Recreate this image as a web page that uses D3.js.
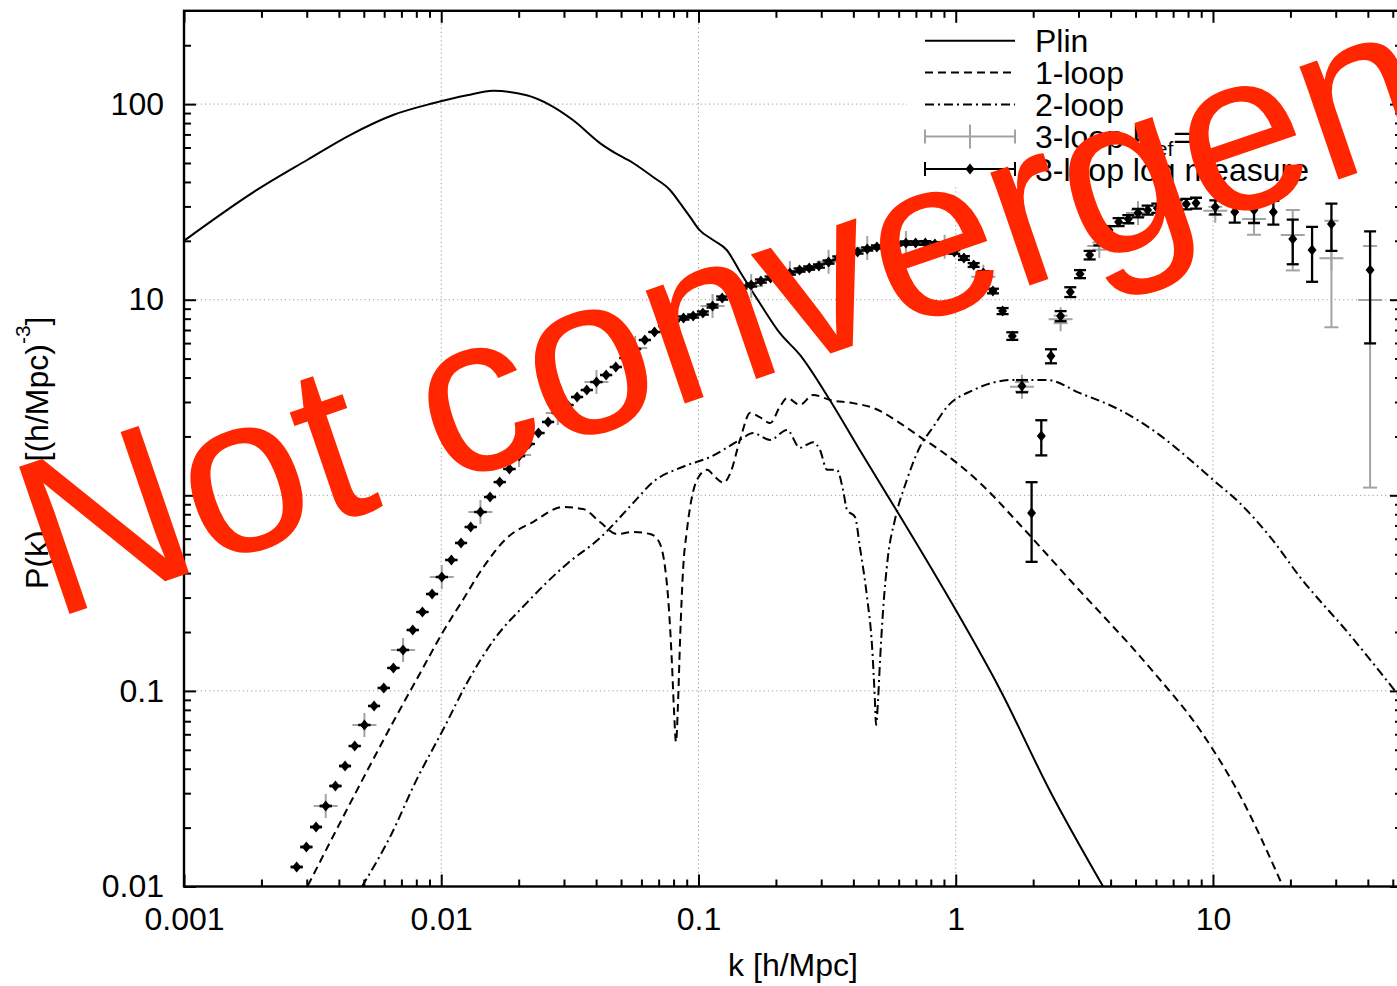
<!DOCTYPE html>
<html>
<head>
<meta charset="utf-8">
<script src="https://cdn.jsdelivr.net/npm/d3@7"></script>
<style>
  html, body { margin: 0; padding: 0; background: #fff; }
  svg { display: block; }
  text { font-family: "Liberation Sans", Arial, Helvetica, sans-serif; }
</style>
</head>
<body>
<svg id="chart" width="1397" height="986"></svg>
<script>
// ---- Linear power spectrum ----
const plinK = [0.001, 0.00192, 0.00301, 0.00442, 0.0065, 0.00929, 0.0126, 0.0159, 0.0215, 0.0265,
  0.0325, 0.0414, 0.0453, 0.0557, 0.0666, 0.0775, 0.0848, 0.0927, 0.101, 0.114,
  0.129, 0.145, 0.173, 0.207, 0.248, 0.324, 0.424, 0.607, 0.869, 1.49, 2.33, 3.74];
const plinP = [20.0, 36.4, 51.8, 69.5, 88.0, 101, 111, 117, 111, 98.9,
  82.9, 63.2, 58.3, 50.0, 42.4, 36.4, 31.2, 26.5, 22.7, 20.2,
  17.9, 13.9, 9.62, 6.76, 5.22, 3.07, 1.70, 0.784, 0.356, 0.101, 0.0306, 0.0100];

// ---- 1-loop contribution ----
const oneLoopK = [0.00303, 0.00393, 0.00496, 0.00650, 0.00849, 0.0101, 0.0122, 0.0145, 0.0180, 0.0227,
  0.0297, 0.0356, 0.0414, 0.0482, 0.0557, 0.0648, 0.0696, 0.0741, 0.0768, 0.0789,
  0.0803, 0.0818, 0.0832, 0.0848, 0.0871, 0.0902, 0.0943, 0.0987, 0.108, 0.116,
  0.125, 0.133, 0.145, 0.159, 0.173, 0.190, 0.207, 0.221, 0.248, 0.279,
  0.325, 0.399, 0.477, 0.607, 0.726, 0.869, 1.24, 1.78, 2.78, 5.69,
  8.90, 12.7, 18.7];
const oneLoopP = [0.0101, 0.0197, 0.0355, 0.0693, 0.131, 0.198, 0.295, 0.425, 0.605, 0.730,
  0.871, 0.851, 0.730, 0.634, 0.649, 0.634, 0.591, 0.430, 0.259, 0.136,
  0.0799, 0.0548, 0.0847, 0.182, 0.415, 0.665, 0.980, 1.20, 1.35, 1.24,
  1.16, 1.30, 1.92, 2.64, 2.51, 2.34, 2.83, 3.14, 2.90, 3.26,
  3.07, 2.96, 2.80, 2.34, 1.99, 1.70, 1.16, 0.705, 0.369, 0.131,
  0.0631, 0.0294, 0.0100];

// ---- 2-loop contribution ----
const twoLoopK = [0.00492, 0.00632, 0.00805, 0.0102, 0.0126, 0.0159, 0.0215, 0.0308, 0.0414, 0.0557,
  0.0666, 0.0871, 0.111, 0.145, 0.163, 0.190, 0.221, 0.248, 0.279, 0.297,
  0.316, 0.345, 0.365, 0.378, 0.406, 0.424, 0.452, 0.473, 0.485, 0.490,
  0.499, 0.508, 0.521, 0.545, 0.580, 0.646, 0.726, 0.816, 0.925, 1.17,
  1.67, 2.26, 3.04, 4.35, 6.06, 7.92, 10.0, 12.7, 16.7, 21.8,
  34.1, 53.3];
const twoLoopP = [0.0100, 0.0179, 0.0355, 0.0639, 0.110, 0.180, 0.282, 0.446, 0.605, 0.913,
  1.17, 1.40, 1.57, 1.92, 2.08, 1.92, 2.16, 1.75, 1.87, 1.70,
  1.35, 1.35, 1.06, 0.841, 0.775, 0.544, 0.302, 0.168, 0.0899, 0.0670,
  0.0899, 0.144, 0.250, 0.484, 0.748, 1.20, 1.77, 2.23, 2.83, 3.45,
  3.89, 3.89, 3.33, 2.73, 2.08, 1.57, 1.20, 0.913, 0.612, 0.382,
  0.193, 0.0931];

// ---- 3-loop, log measure (value and symmetric error) ----
const logMeasK = [0.002742, 0.002990, 0.003261, 0.003556, 0.003878, 0.004227, 0.004609, 0.005027, 0.005481, 0.005977,
  0.006516, 0.007106, 0.007749, 0.008450, 0.009213, 0.01005, 0.01095, 0.01194, 0.01302, 0.01420,
  0.01548, 0.01688, 0.01841, 0.02008, 0.02189, 0.02387, 0.02603, 0.02838, 0.03095, 0.03374,
  0.03679, 0.04012, 0.04375, 0.04771, 0.05202, 0.05673, 0.06185, 0.06745, 0.07355, 0.08020,
  0.08745, 0.09535, 0.1040, 0.1134, 0.1236, 0.1348, 0.1470, 0.1603, 0.1748, 0.1906,
  0.2078, 0.2266, 0.2471, 0.2694, 0.2938, 0.3204, 0.3493, 0.3809, 0.4154, 0.4529,
  0.4939, 0.5385, 0.5872, 0.6403, 0.6982, 0.7614, 0.8302, 0.9053, 0.9870, 1.076,
  1.174, 1.280, 1.395, 1.521, 1.659, 1.809, 1.972, 2.151, 2.345, 2.557,
  2.788, 3.041, 3.316, 3.615, 3.942, 4.298, 4.687, 5.111, 5.573, 6.076,
  6.626, 7.225, 7.878, 8.590, 10.21, 12.15, 14.44, 17.17, 20.42, 24.28,
  28.87, 40.81];
const logMeasP = [0.01258, 0.01592, 0.02015, 0.02579, 0.03265, 0.04130, 0.05227, 0.06695, 0.08374, 0.1035,
  0.1310, 0.1619, 0.2048, 0.2532, 0.3129, 0.3822, 0.4670, 0.5705, 0.6885, 0.8214,
  0.9802, 1.169, 1.363, 1.588, 1.830, 2.082, 2.371, 2.636, 2.895, 3.181,
  3.454, 3.795, 4.121, 4.529, 5.035, 5.598, 6.223, 6.838, 7.338, 7.782,
  8.062, 8.254, 8.551, 9.286, 10.20, 10.95, 11.61, 11.89, 12.46, 12.91,
  13.22, 13.69, 14.18, 14.52, 14.87, 15.58, 16.34, 16.93, 17.54, 18.16,
  18.60, 18.82, 19.27, 19.50, 19.50, 19.50, 19.27, 18.82, 17.54, 16.34,
  15.05, 13.69, 11.08, 8.753, 6.524, 3.622, 0.8120, 2.010, 5.155, 8.254,
  10.95, 13.53, 16.93, 19.96, 22.72, 24.96, 25.85, 27.75, 28.74, 29.42,
  30.13, 30.49, 30.85, 31.22, 29.78, 28.08, 28.74, 28.08, 20.43, 17.95,
  24.38, 14.18];
const logMeasErr = [0, 0, 0, 0, 0, 0, 0, 0, 0, 0,
  0, 0, 0, 0, 0, 0, 0, 0, 0, 0,
  0, 0, 0, 0, 0, 0, 0, 0, 0, 0,
  0, 0, 0, 0, 0, 0, 0, 0, 0, 0,
  0.15, 0.15, 0.16, 0.17, 0.19, 0.20, 0.21, 0.22, 0.23, 0.24,
  0.25, 0.26, 0.27, 0.28, 0.29, 0.30, 0.31, 0.33, 0.34, 0.35,
  0.36, 0.37, 0.38, 0.39, 0.39, 0.40, 0.40, 0.40, 0.38, 0.36,
  0.34, 0.32, 0.30, 0.31, 0.29, 0.26, 0.355, 0.41, 0.425, 0.49,
  0.63, 0.64, 0.86, 0.98, 1.07, 1.20, 1.25, 1.40, 1.50, 1.60,
  1.70, 1.80, 1.90, 2.00, 2.45, 3.30, 4.06, 3.90, 5.25, 5.60,
  6.60, 8.20];

// ---- 3-loop with reference scale (value and symmetric error) ----
const refK = [0.003556, 0.005027, 0.007106, 0.01005, 0.01420, 0.02008, 0.02838, 0.04012, 0.05673, 0.08020,
  0.1134, 0.1603, 0.2266, 0.3204, 0.4529, 0.6403, 0.9053, 1.280, 1.809, 2.557,
  3.615, 5.111, 7.225, 10.21, 14.44, 20.42, 28.87, 40.81];
const refP = [0.02579, 0.06695, 0.1619, 0.3822, 0.8214, 1.607, 2.636, 3.795, 5.664, 7.874,
  9.286, 11.75, 13.69, 15.64, 18.38, 19.50, 18.67, 13.11, 3.592, 7.940,
  18.82, 27.75, 30.13, 28.51, 25.85, 21.42, 16.28, 9.965];
const refErr = [0, 0, 0, 0, 0, 0, 0, 0, 0, 0,
  0, 0, 0, 0, 0, 0.30, 0.35, 0.35, 0.20, 0.35,
  0.80, 1.10, 1.30, 1.40, 4.35, 7.30, 9.05, 8.87];

// ---- axes and labels ----
const xTickValues = [0.001, 0.01, 0.1, 1, 10];
const xTickLabels = ["0.001", "0.01", "0.1", "1", "10"];
const yTickValues = [0.01, 0.1, 1, 10, 100];
const yTickLabels = ["0.01", "0.1", "1", "10", "100"];
const seriesNames = ["Plin", "1-loop", "2-loop", "3-loop k", "3-loop log measure"];
const xTitle = "k [h/Mpc]";
const stamp = "Not convergent";

const toPoints = (ks, ps) => ks.map((k, i) => ({ k, p: ps[i] }));

const box = { left: 184, right: 1402, top: 10.8, bottom: 886.5 };
const x = d3.scaleLog().domain([0.001, 54.3]).range([box.left, box.right]);
const y = d3.scaleLog().domain([0.01, 300]).range([box.bottom, box.top]);

const svg = d3.select("#chart");
const FONT = 32;

svg.append("defs").append("clipPath").attr("id", "plotClip")
  .append("rect")
  .attr("x", box.left).attr("y", box.top)
  .attr("width", box.right - box.left).attr("height", box.bottom - box.top);

// dotted grid at the decades
const grid = svg.append("g").attr("stroke", "#9a9a9a").attr("stroke-width", 1)
  .attr("stroke-dasharray", "1.2,3");
grid.selectAll("line.gx").data(xTickValues.filter(v => v > 0.001)).join("line")
  .attr("class", "gx")
  .attr("x1", d => x(d)).attr("x2", d => x(d))
  .attr("y1", box.top).attr("y2", box.bottom);
grid.selectAll("line.gy").data(yTickValues.filter(v => v > 0.01)).join("line")
  .attr("class", "gy")
  .attr("x1", box.left).attr("x2", box.right)
  .attr("y1", d => y(d)).attr("y2", d => y(d));

// opaque key area
const keyLeft = 907, keyBottom = 186;
svg.append("rect").attr("x", keyLeft).attr("y", box.top + 1)
  .attr("width", box.right - keyLeft).attr("height", keyBottom - box.top)
  .attr("fill", "#fff");

const plotArea = svg.append("g").attr("clip-path", "url(#plotClip)");

const line = d3.line().x(d => x(d.k)).y(d => y(d.p)).curve(d3.curveMonotoneX);

const dashOne = "8,5";
const dashTwo = "9,4,2,4";

plotArea.append("path").datum(toPoints(plinK, plinP))
  .attr("d", line).attr("fill", "none").attr("stroke", "#000").attr("stroke-width", 2);
plotArea.append("path").datum(toPoints(oneLoopK, oneLoopP))
  .attr("d", line).attr("fill", "none").attr("stroke", "#000").attr("stroke-width", 2)
  .attr("stroke-dasharray", dashOne);
plotArea.append("path").datum(toPoints(twoLoopK, twoLoopP))
  .attr("d", line).attr("fill", "none").attr("stroke", "#000").attr("stroke-width", 2)
  .attr("stroke-dasharray", dashTwo);

// vertical error bars with caps
function errorBars(g, pts, color, capHalf, width) {
  const eb = g.append("g").attr("stroke", color).attr("stroke-width", width).attr("fill", "none");
  pts.forEach(d => {
    const px = x(d.k);
    const lo = y(Math.max(d.p - d.e, 1e-4));
    const hi = y(d.p + d.e);
    eb.append("line").attr("x1", px).attr("x2", px).attr("y1", lo).attr("y2", hi);
    eb.append("line").attr("x1", px - capHalf).attr("x2", px + capHalf).attr("y1", lo).attr("y2", lo);
    eb.append("line").attr("x1", px - capHalf).attr("x2", px + capHalf).attr("y1", hi).attr("y2", hi);
  });
  return eb;
}

const GRAY = "#a3a3a3";
const refPts = refK.map((k, i) => ({ k, p: refP[i], e: refErr[i] }));
const refG = plotArea.append("g");
errorBars(refG, refPts, GRAY, 7, 2);
refG.append("g").attr("stroke", GRAY).attr("stroke-width", 2)
  .selectAll("path").data(refPts).join("path")
  .attr("d", d => {
    const px = x(d.k), py = y(d.p);
    return `M${px - 12},${py}H${px + 12}M${px},${py - 12}V${py + 12}`;
  });

const measPts = logMeasK.map((k, i) => ({ k, p: logMeasP[i], e: logMeasErr[i] }));
const measG = plotArea.append("g");
errorBars(measG, measPts, "#000", 6, 2.3);
const diamond = "M0,-5.5L4.5,0L0,5.5L-4.5,0Z";
measG.append("g").selectAll("path").data(measPts).join("path")
  .attr("transform", d => `translate(${x(d.k)},${y(d.p)})`)
  .attr("d", diamond).attr("fill", "#000");

// ---- key ----
const key = svg.append("g").attr("font-size", FONT);
const keyX0 = 925, keyX1 = 1015, keyTextX = 1035;
const keyRows = [40.7, 72.5, 104.5, 136.5, 169];
const keyMid = (keyX0 + keyX1) / 2;
seriesNames.forEach((name, i) => {
  const ry = keyRows[i];
  const g = key.append("g");
  if (i < 3) {
    const l = g.append("line").attr("x1", keyX0).attr("x2", keyX1).attr("y1", ry).attr("y2", ry)
      .attr("stroke", "#000").attr("stroke-width", 2);
    if (i === 1) l.attr("stroke-dasharray", dashOne);
    if (i === 2) l.attr("stroke-dasharray", dashTwo);
  } else {
    const col = i === 3 ? GRAY : "#000";
    g.append("path").attr("fill", "none").attr("stroke", col).attr("stroke-width", 2)
      .attr("d", `M${keyX0},${ry}H${keyX1}M${keyX0},${ry - 7}V${ry + 7}M${keyX1},${ry - 7}V${ry + 7}`);
    if (i === 3) {
      g.append("path").attr("stroke", col).attr("stroke-width", 2)
        .attr("d", `M${keyMid},${ry - 12}V${ry + 12}`);
    } else {
      g.append("path").attr("d", diamond).attr("fill", "#000")
        .attr("transform", `translate(${keyMid},${ry})`);
    }
  }
  const t = g.append("text").attr("x", keyTextX).attr("y", ry + 11.5).attr("fill", "#000");
  t.append("tspan").text(name);
  if (i === 3) {
    t.append("tspan").attr("font-size", 21).attr("dy", 8).text("ref");
    t.append("tspan").attr("dy", -8).text("=1");
  }
});

// ---- axes ----
const minorX = [];
for (let e = -3; e <= 1; e++) for (let m = 2; m <= 9; m++) {
  const v = +(m * Math.pow(10, e)).toPrecision(3);
  if (v < 54.3) minorX.push(v);
}
const minorY = [];
for (let e = -2; e <= 2; e++) for (let m = 2; m <= 9; m++) {
  const v = +(m * Math.pow(10, e)).toPrecision(3);
  if (v < 300) minorY.push(v);
}

function styleAxis(g, width) {
  g.select(".domain").remove();
  g.selectAll(".tick line").attr("stroke", "#000").attr("stroke-width", width);
  g.attr("font-size", FONT).attr("font-family", '"Liberation Sans", Arial, Helvetica, sans-serif');
  g.selectAll(".tick text").attr("fill", "#000");
}

const axes = svg.append("g");
// bottom
axes.append("g").attr("transform", `translate(0,${box.bottom})`)
  .call(d3.axisBottom(x).tickValues(xTickValues).tickFormat((d, i) => xTickLabels[i])
    .tickSizeInner(-12).tickSizeOuter(0).tickPadding(20.8))
  .call(g => styleAxis(g, 2));
axes.append("g").attr("transform", `translate(0,${box.bottom})`)
  .call(d3.axisBottom(x).tickValues(minorX).tickFormat(() => "").tickSizeInner(-7).tickSizeOuter(0))
  .call(g => styleAxis(g, 2));
// top
axes.append("g").attr("transform", `translate(0,${box.top})`)
  .call(d3.axisTop(x).tickValues(xTickValues).tickFormat(() => "").tickSizeInner(-12).tickSizeOuter(0))
  .call(g => styleAxis(g, 2));
axes.append("g").attr("transform", `translate(0,${box.top})`)
  .call(d3.axisTop(x).tickValues(minorX).tickFormat(() => "").tickSizeInner(-7).tickSizeOuter(0))
  .call(g => styleAxis(g, 2));
// left
axes.append("g").attr("transform", `translate(${box.left},0)`)
  .call(d3.axisLeft(y).tickValues(yTickValues).tickFormat((d, i) => yTickLabels[i])
    .tickSizeInner(-12).tickSizeOuter(0).tickPadding(20))
  .call(g => styleAxis(g, 2));
axes.append("g").attr("transform", `translate(${box.left},0)`)
  .call(d3.axisLeft(y).tickValues(minorY).tickFormat(() => "").tickSizeInner(-7).tickSizeOuter(0))
  .call(g => styleAxis(g, 2));
// right
axes.append("g").attr("transform", `translate(${box.right},0)`)
  .call(d3.axisRight(y).tickValues(yTickValues).tickFormat(() => "").tickSizeInner(-12).tickSizeOuter(0))
  .call(g => styleAxis(g, 2));
axes.append("g").attr("transform", `translate(${box.right},0)`)
  .call(d3.axisRight(y).tickValues(minorY).tickFormat(() => "").tickSizeInner(-7).tickSizeOuter(0))
  .call(g => styleAxis(g, 2));

// frame
svg.append("rect").attr("x", box.left).attr("y", box.top)
  .attr("width", box.right - box.left).attr("height", box.bottom - box.top)
  .attr("fill", "none").attr("stroke", "#000").attr("stroke-width", 2.4);

// axis titles
svg.append("text").attr("x", 793).attr("y", 976).attr("text-anchor", "middle")
  .attr("font-size", FONT).text(xTitle);
const yTitle = svg.append("text").attr("transform", "rotate(-90)")
  .attr("x", -589).attr("y", 48).attr("font-size", FONT);
yTitle.append("tspan").text("P(k)");
yTitle.append("tspan").attr("dx", 60).text(" [(h/Mpc)");
yTitle.append("tspan").attr("font-size", 21).attr("dy", -18).text("-3");
yTitle.append("tspan").attr("dy", 18).text("]");

// red stamp across the plot
svg.append("text")
  .attr("transform", "translate(52,620) rotate(-18.9)")
  .attr("font-size", 226)
  .attr("fill", "#ff2600")
  .text(stamp);
</script>
</body>
</html>
